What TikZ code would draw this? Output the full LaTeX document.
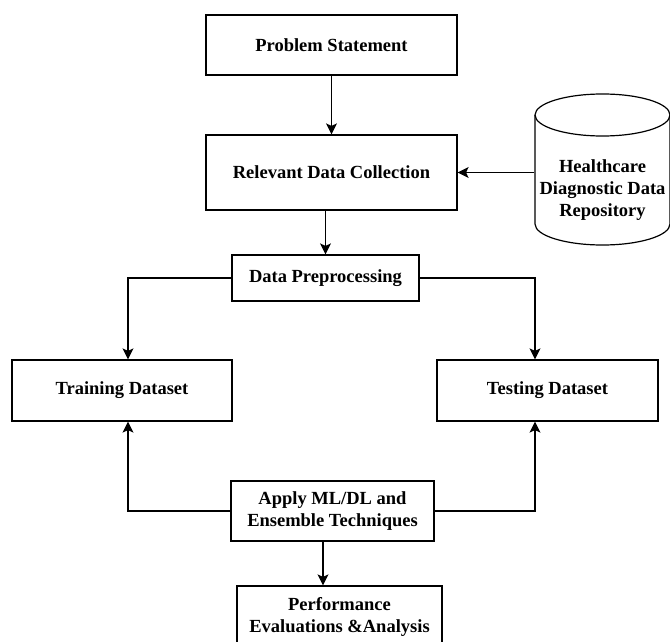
\documentclass[tikz,border=0pt]{standalone}
\usepackage{fontspec}
\setmainfont{Liberation Serif}
\usetikzlibrary{arrows.meta}

\begin{document}
\begin{tikzpicture}[x=1pt,y=1pt,line width=1.2pt,
    txt/.style={inner sep=0pt,align=center,font=\fontsize{18.5}{22}\selectfont\bfseries},
    box/.style={txt,draw},
    arr/.style={-{Stealth[length=11pt,width=11pt,inset=2.5pt]}}]
      \useasboundingbox (0,0) rectangle (670,-642);

      \node[box,minimum width=251pt,minimum height=60pt](prob) at (331.5,-45) {Problem Statement};
      \node[box,minimum width=251pt,minimum height=75pt](rel) at (331.5,-172.5) {Relevant Data Collection};
      \node[box,minimum width=187pt,minimum height=46pt](prep) at (325.5,-278) {Data Preprocessing};
      \node[box,minimum width=220pt,minimum height=61pt](train) at (122,-390.5) {Training Dataset};
      \node[box,minimum width=221pt,minimum height=61pt](test) at (547.5,-390.5) {Testing Dataset};
      \node[box,minimum width=203pt,minimum height=60pt](apply) at (332.5,-511) {Apply ML/DL and\\Ensemble Techniques};
      \node[box,minimum width=205pt,minimum height=62pt](perf) at (339.5,-617) {Performance\\Evaluations \&Analysis};
      \node[txt,minimum width=135pt](repo) at (602.5,-190) {Healthcare\\Diagnostic Data\\Repository};

      \draw (535,-115) -- (535,-224) arc[start angle=180,end angle=360,x radius=67.5,y radius=21]
        -- (670,-115) arc[start angle=0,end angle=180,x radius=67.5,y radius=21] -- cycle;
      \draw (535,-115) arc[start angle=180,end angle=360,x radius=67.5,y radius=21];

      \draw[arr] (prob) -- (rel);
      \draw[arr] (rel.south -| prep.north) -- (prep.north);
      \draw[arr] (repo.west |- rel.east) -- (rel.east);
      \draw[arr] (prep.west) -| ([xshift=6pt]train.north);
      \draw[arr] (prep.east) -| ([xshift=-12.5pt]test.north);
      \draw[arr] (apply.west) -| ([xshift=6pt]train.south);
      \draw[arr] (apply.east) -| ([xshift=-12.5pt]test.south);
      \draw[arr] ([xshift=-9.5pt]apply.south) -- ([xshift=-9.5pt]apply.south |- perf.north);
    \end{tikzpicture}
\end{document}
